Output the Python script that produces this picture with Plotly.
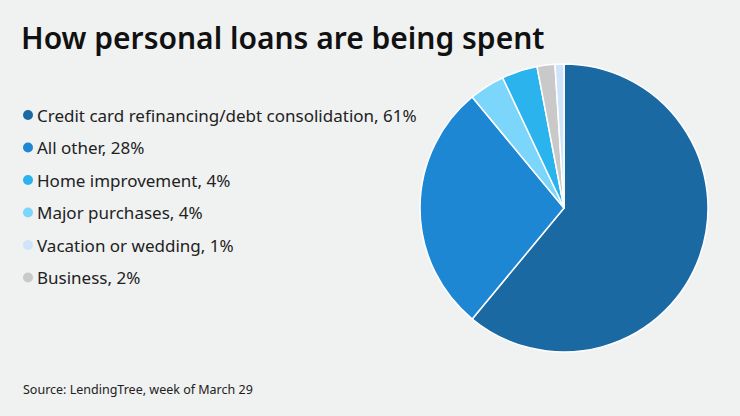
import plotly.graph_objects as go

# Pie order (clockwise from 12 o'clock)
pie_labels = ["Credit card refinancing/debt consolidation", "All other", "Major purchases",
              "Home improvement", "Business", "Vacation or wedding"]
pie_values = [61, 28, 4, 4, 2, 1]
pie_colors = ["#1b69a3", "#1e87d3", "#7cd5fb", "#2bb3ee", "#c9c9c9", "#cfe3f9"]

# Legend order
legend_labels = ["Credit card refinancing/debt consolidation, 61%", "All other, 28%",
                 "Home improvement, 4%", "Major purchases, 4%",
                 "Vacation or wedding, 1%", "Business, 2%"]
legend_colors = ["#1b69a3", "#1e87d3", "#2bb3ee", "#7cd5fb", "#cfe3f9", "#c9c9c9"]

W, H = 740, 416
BG = "#f0f1f1"
FONT = "Noto Sans"

fig = go.Figure()
cx, cy, r = 564, 208, 144
fig.add_trace(go.Pie(
    labels=pie_labels, values=pie_values, sort=False, direction="clockwise", rotation=0,
    marker=dict(colors=pie_colors, line=dict(color="white", width=1.5)),
    textinfo="none", hoverinfo="label+value", showlegend=False,
    domain=dict(x=[(cx - r) / W, (cx + r) / W], y=[(H - cy - r) / H, (H - cy + r) / H]),
))

annotations = [
    dict(text="How personal loans are being spent", x=19 / W, y=1 - 37 / H,
         xref="paper", yref="paper", xanchor="left", yanchor="middle", showarrow=False,
         font=dict(family=FONT, size=30, color="#111111", weight=600)),
    dict(text="Source: LendingTree, week of March 29", x=21 / W, y=1 - 389 / H,
         xref="paper", yref="paper", xanchor="left", yanchor="middle", showarrow=False,
         font=dict(family=FONT, size=12.5, color="#222222")),
]
shapes = []
y0, dy = 115, 32.5
for i, (lab, col) in enumerate(zip(legend_labels, legend_colors)):
    y = y0 + i * dy
    annotations.append(dict(text=lab, x=35 / W, y=1 - y / H, xref="paper", yref="paper",
                            xanchor="left", yanchor="middle", showarrow=False,
                            font=dict(family=FONT, size=17, color="#222222")))
    shapes.append(dict(type="circle", xref="paper", yref="paper",
                       x0=(28 - 5) / W, x1=(28 + 5) / W, y0=1 - (y + 5) / H, y1=1 - (y - 5) / H,
                       fillcolor=col, line=dict(width=0)))

fig.update_layout(
    width=W, height=H, margin=dict(l=0, r=0, t=0, b=0),
    paper_bgcolor=BG, plot_bgcolor=BG,
    annotations=annotations, shapes=shapes,
)
fig.write_html("out.html", config={"displayModeBar": False},
               post_script="document.body.style.margin='0';")
